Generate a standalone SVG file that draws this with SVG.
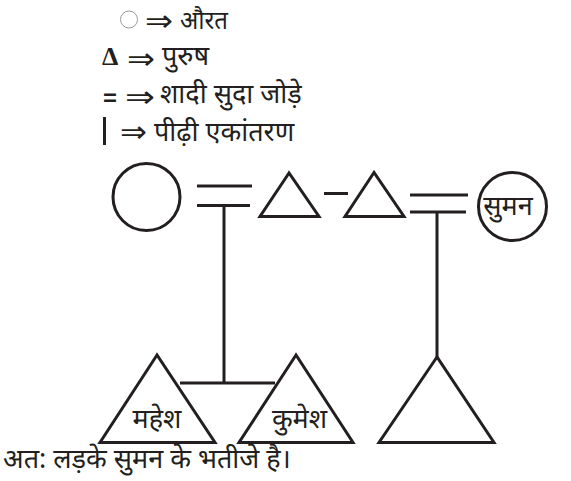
<svg xmlns="http://www.w3.org/2000/svg" width="571" height="481" viewBox="0 0 571 481">
<style>
.s{fill:none;stroke:#231f20;stroke-width:3}
.t{font-family:"Noto Sans","Liberation Sans",sans-serif;font-size:27px;fill:#231f20}
.a{font-family:"DejaVu Sans",sans-serif;font-size:30px;fill:#231f20}
</style>
<rect width="571" height="481" fill="#fff"/>
<g id="legend">
<circle cx="129" cy="19.5" r="8.5" fill="none" stroke="#999" stroke-width="1"/>
<text class="a" x="145" y="31" textLength="28" lengthAdjust="spacingAndGlyphs">⇒</text>
<text class="t" x="180" y="29" style="font-size:25px" textLength="48" lengthAdjust="spacingAndGlyphs">औरत</text>
<text x="102" y="65" style="font-family:'Liberation Serif',serif;font-size:26px;font-weight:bold;fill:#231f20">Δ</text>
<text class="a" x="127" y="69" textLength="28" lengthAdjust="spacingAndGlyphs">⇒</text>
<text class="t" x="162" y="65">पुरुष</text>
<text class="a" x="102" y="107" textLength="16" lengthAdjust="spacingAndGlyphs">=</text>
<text class="a" x="125" y="107" textLength="30" lengthAdjust="spacingAndGlyphs">⇒</text>
<text class="t" x="160" y="103">शादी सुदा जोड़े</text>
<line x1="104.5" y1="117" x2="104.5" y2="145" stroke="#231f20" stroke-width="3"/>
<text class="a" x="120" y="142" textLength="27" lengthAdjust="spacingAndGlyphs">⇒</text>
<text class="t" x="154" y="141">पीढ़ी एकांतरण</text>
</g>
<g id="connectors" class="s">
<line x1="197" y1="186" x2="252" y2="186"/>
<line x1="197" y1="205.5" x2="250" y2="205.5"/>
<line x1="224" y1="205.5" x2="224" y2="383"/>
<line x1="180" y1="383" x2="275" y2="383"/>
<line x1="324" y1="193.5" x2="348" y2="193.5"/>
<line x1="410" y1="195" x2="468" y2="195"/>
<line x1="410" y1="212" x2="466" y2="212"/>
<line x1="437" y1="212" x2="437" y2="357"/>
</g>
<g id="woman1"><circle class="s" cx="146.5" cy="197" r="33.5"/></g>
<g id="man1"><polygon class="s" points="289,173 260,216.5 319,216.5"/></g>
<g id="man2"><polygon class="s" points="374,172.5 345,216.5 404,216.5"/></g>
<g id="suman"><circle class="s" cx="512.5" cy="206.5" r="34"/><text class="t" x="508" y="215" text-anchor="middle">सुमन</text></g>
<g id="mahesh"><polygon class="s" points="157,355 100,442.5 215,442.5"/><text class="t" x="157" y="428" text-anchor="middle">महेश</text></g>
<g id="kumesh"><polygon class="s" points="296,355 239,442.5 353,442.5"/><text class="t" x="299.5" y="428" text-anchor="middle">कुमेश</text></g>
<g id="child3"><polygon class="s" points="437,357 379,442.5 494,442.5"/></g>
<text class="t" x="3" y="468">अत: लड़के सुमन के भतीजे है।</text>
</svg>
